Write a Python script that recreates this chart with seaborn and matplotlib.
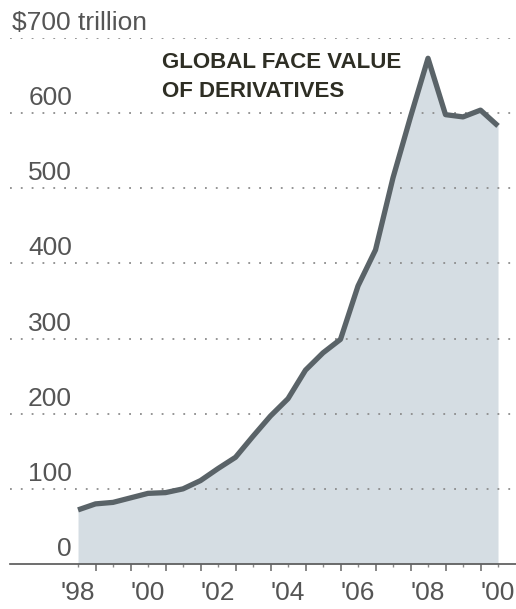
import matplotlib
matplotlib.use("Agg")
import matplotlib.pyplot as plt
import matplotlib.transforms as mtransforms
from matplotlib.ticker import FixedLocator, FixedFormatter
import seaborn as sns
import pandas as pd

# ---- data ----
periods = ["1998-06", "1998-12", "1999-06", "1999-12", "2000-06", "2000-12",
           "2001-06", "2001-12", "2002-06", "2002-12", "2003-06", "2003-12",
           "2004-06", "2004-12", "2005-06", "2005-12", "2006-06", "2006-12",
           "2007-06", "2007-12", "2008-06", "2008-12", "2009-06", "2009-12",
           "2010-06"]
values = [72, 80, 82, 88, 94, 95, 100, 111, 127, 142, 170, 197, 220, 258,
          281, 299, 370, 418, 514, 595, 673, 598, 595, 604, 583]
label_years = [1998, 2000, 2002, 2004, 2006, 2008, 2010]
x_labels = ["'98", "'00", "'02", "'04", "'06", "'08", "'00"]
y_ticks = [0, 100, 200, 300, 400, 500, 600, 700]
y_labels = ["0", "100", "200", "300", "400", "500", "600", "$700 trillion"]
title_lines = ["GLOBAL FACE VALUE", "OF DERIVATIVES"]

df = pd.DataFrame({"period": pd.to_datetime(periods), "value": values})
df["t"] = df["period"].dt.year + df["period"].dt.month / 12.0

sns.set_style("white")
plt.rcParams["font.family"] = ["Liberation Sans", "DejaVu Sans"]

W, H = 516, 609
fig = plt.figure(figsize=(W / 100, H / 100), dpi=100)
fig.patch.set_facecolor("white")
ax = fig.add_axes([10 / W, 45 / H, 506 / W, 526 / H])

fill_c = "#d5dde3"
line_c = "#5a6368"
ax.fill_between(df["t"], 0, df["value"], color=fill_c, lw=0, zorder=1)
for y in y_ticks[1:]:
    ax.axhline(y, color="#8c8c8c", lw=1.3, ls=(0, (1, 5)), zorder=2)
sns.lineplot(data=df, x="t", y="value", ax=ax, color=line_c, lw=3.8,
             zorder=3, solid_capstyle="butt")

ax.set_xlim(1996.557, 2011.014)
ax.set_ylim(0, 700)
ax.set_xlabel("")
ax.set_ylabel("")

for s in ["top", "right", "left"]:
    ax.spines[s].set_visible(False)
ax.spines["bottom"].set_color("#555555")
ax.spines["bottom"].set_linewidth(1.2)
ax.spines["bottom"].set_zorder(4)

# ticks: long at year boundaries, short at mid-year; labels centred mid-year
years_all = list(range(1999, 2011))
mids_all = [y + 0.5 for y in range(1998, 2011)]
ax.xaxis.set_major_locator(FixedLocator(years_all))
ax.xaxis.set_major_formatter(FixedFormatter([""] * len(years_all)))
ax.xaxis.set_minor_locator(FixedLocator(mids_all))
minor_lbls = []
for m in mids_all:
    yr = int(m - 0.5)
    minor_lbls.append(x_labels[label_years.index(yr)] if yr in label_years else "")
ax.xaxis.set_minor_formatter(FixedFormatter(minor_lbls))
ax.tick_params(axis="x", which="major", length=5, width=1.1, color="#666666",
               direction="out", bottom=True)
ax.tick_params(axis="x", which="minor", length=2.5, width=1.0, color="#888888",
               direction="out", bottom=True, labelsize=19, labelcolor="#555555",
               pad=10)
ax.set_yticks([])

# y labels above the gridlines
trans = mtransforms.offset_copy(ax.get_yaxis_transform(), fig=fig, y=8,
                                units="dots")
for yv, lab in zip(y_ticks, y_labels):
    if lab.startswith("$"):
        ax.text(2 / 506, yv, lab, transform=trans, ha="left", va="baseline",
                fontsize=19, color="#555555", clip_on=False)
    else:
        ax.text(62 / 506, yv, lab, transform=trans, ha="right", va="baseline",
                fontsize=19, color="#555555", clip_on=False)

# title inside the chart
for i, (txt, base) in enumerate(zip(title_lines, [68, 97])):
    fig.text(162 / W, (H - base) / H, txt, ha="left", va="baseline",
             fontsize=16, fontweight="bold", color="#2e2e24")

fig.savefig("out.png", dpi=100, facecolor="white")
